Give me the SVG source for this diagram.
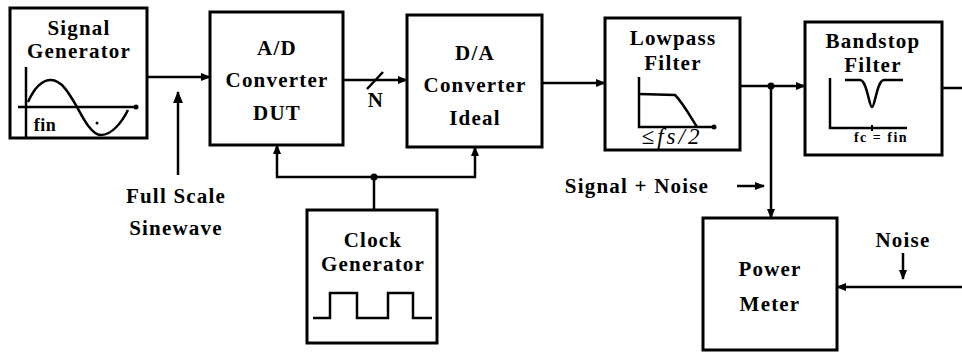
<svg xmlns="http://www.w3.org/2000/svg" width="962" height="353" viewBox="0 0 962 353">
<style>
.box{fill:#fff;stroke:#000;stroke-width:3}
.ln{fill:none;stroke:#000;stroke-width:2.5}
.thin{fill:none;stroke:#000;stroke-width:2}
.t{font-family:"Liberation Serif","Times New Roman",serif;font-weight:bold;font-size:21px;letter-spacing:1.2px;text-anchor:middle;fill:#000}
.s{font-family:"Liberation Serif","Times New Roman",serif;font-weight:bold;font-size:14px;letter-spacing:1.5px;text-anchor:middle;fill:#000}
</style>
<defs>
<marker id="arr" markerUnits="userSpaceOnUse" markerWidth="10" markerHeight="10" viewBox="0 0 10 10" refX="9" refY="5" orient="auto">
<path d="M0,1 L10,5 L0,9 Z" fill="#000"/>
</marker>
<marker id="arrB" markerUnits="userSpaceOnUse" markerWidth="12" markerHeight="12" viewBox="0 0 12 12" refX="11" refY="6" orient="auto">
<path d="M0,1 L12,6 L0,11 Z" fill="#000"/>
</marker>
</defs>

<g id="connectors">
<path class="ln" d="M147,77 H210" marker-end="url(#arr)"/>
<path class="ln" d="M343,80 H407" marker-end="url(#arr)"/>
<path class="ln" d="M367,89 L383,72"/>
<path class="ln" d="M542,83 H605" marker-end="url(#arr)"/>
<path class="ln" d="M740,86 H805" marker-end="url(#arr)"/>
<path class="ln" d="M942,88 H962"/>
<path class="ln" d="M374,210 V177"/>
<path class="ln" d="M374,177 H277 V145" marker-end="url(#arr)"/>
<path class="ln" d="M374,177 H475 V147" marker-end="url(#arr)"/>
<circle cx="374" cy="177" r="3.5" fill="#000"/>
<path class="ln" d="M771,86 V218" marker-end="url(#arr)"/>
<circle cx="771" cy="86" r="3.5" fill="#000"/>
<path class="ln" d="M962,287 H837" marker-end="url(#arr)"/>
<path class="ln" d="M178,175 V92" marker-end="url(#arrB)"/>
<path class="ln" d="M737,186 H764" marker-end="url(#arr)"/>
<path class="ln" d="M903,253 V279" marker-end="url(#arr)"/>
</g>

<g id="signal-generator">
<rect class="box" x="10" y="8" width="137" height="130"/>
<text class="t" x="79" y="35">Signal</text>
<text class="t" x="79" y="58">Generator</text>
<path class="ln" d="M26,67 V138"/>
<path class="ln" d="M18,107 H136"/>
<circle cx="136" cy="107" r="2.5" fill="#000"/>
<path class="ln" d="M28,102 C36,84 44,80 51,80 C62,80 70,95 77,107 C84,120 92,135 101,135 C112,135 122,122 128,110"/>
<circle cx="97" cy="123" r="1.5" fill="#000"/>
<text class="t" x="45" y="131" style="font-size:18px;letter-spacing:0.5px">fin</text>
</g>

<g id="full-scale-label">
<text class="t" x="176" y="203">Full Scale</text>
<text class="t" x="176" y="235">Sinewave</text>
</g>

<g id="ad-converter">
<rect class="box" x="210" y="12" width="133" height="133"/>
<text class="t" x="277" y="55">A/D</text>
<text class="t" x="277" y="87">Converter</text>
<text class="t" x="277" y="120">DUT</text>
</g>

<text class="t" x="376" y="107">N</text>

<g id="da-converter">
<rect class="box" x="407" y="15" width="135" height="132"/>
<text class="t" x="475" y="60">D/A</text>
<text class="t" x="475" y="92">Converter</text>
<text class="t" x="475" y="125">Ideal</text>
</g>

<g id="lowpass-filter">
<rect class="box" x="605" y="18" width="135" height="132"/>
<text class="t" x="673" y="45">Lowpass</text>
<text class="t" x="673" y="70">Filter</text>
<path class="ln" d="M639,77 V127 H714"/>
<circle cx="714" cy="127" r="2.5" fill="#000"/>
<path class="ln" d="M639,94 L675,95 C683,103 690,116 697,127"/>
<text class="t" x="672" y="144" style="font-size:23px;font-style:italic;font-weight:normal;letter-spacing:3px">≤fs/2</text>
</g>

<g id="bandstop-filter">
<rect class="box" x="805" y="22" width="137" height="133"/>
<text class="t" x="873" y="48">Bandstop</text>
<text class="t" x="873" y="72">Filter</text>
<path class="ln" d="M830,78 V128 H907"/>
<path class="thin" d="M872,125 V131"/>
<path class="ln" d="M845,80 L860,80 C867,80 869,107 872,107 C875,107 877,80 884,80 L903,80"/>
<text class="s" x="881" y="142">fc = fin</text>
</g>

<g id="clock-generator">
<rect class="box" x="307" y="210" width="130" height="133"/>
<text class="t" x="373" y="247">Clock</text>
<text class="t" x="373" y="271">Generator</text>
<path class="ln" d="M313,318 H330 V293 H357 V318 H388 V293 H413 V318 H432"/>
</g>

<text class="t" x="637" y="193">Signal + Noise</text>

<g id="power-meter">
<rect class="box" x="703" y="218" width="134" height="132"/>
<text class="t" x="770" y="276">Power</text>
<text class="t" x="770" y="311">Meter</text>
</g>

<text class="t" x="903" y="247">Noise</text>
</svg>
